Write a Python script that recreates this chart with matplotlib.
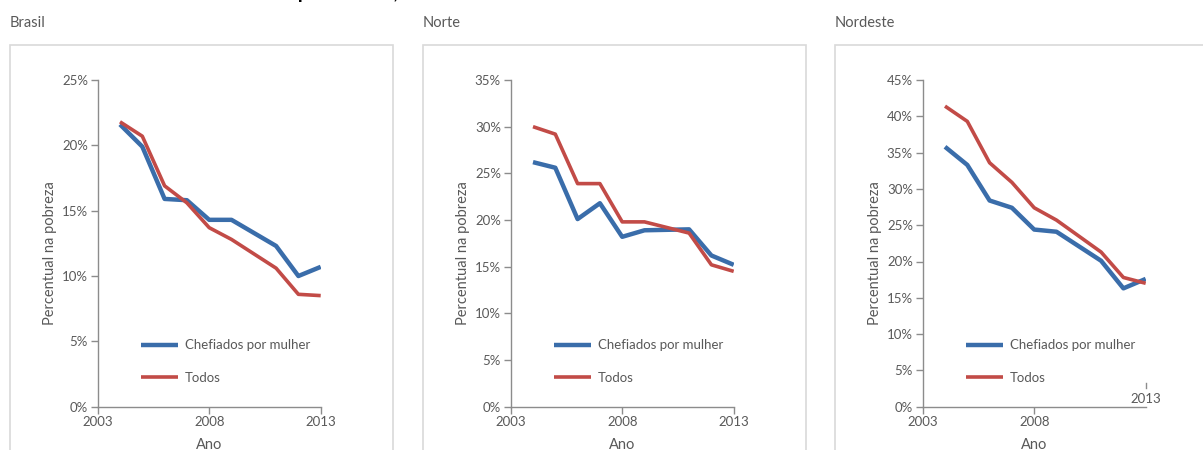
import matplotlib
matplotlib.use("agg")
import matplotlib.pyplot as plt
import matplotlib.ticker as ticker
from matplotlib.patches import Rectangle

plt.rcParams['font.family'] = ['Lato', 'DejaVu Sans']

# anos da PNAD (sem 2010)
anos = [2004, 2005, 2006, 2007, 2008, 2009, 2011, 2012, 2013]

regioes = ["Brasil", "Norte", "Nordeste"]

brasil_mulher = [21.6, 19.9, 15.9, 15.8, 14.3, 14.3, 12.3, 10.0, 10.7]
brasil_todos = [21.8, 20.7, 16.9, 15.6, 13.7, 12.8, 10.6, 8.6, 8.5]

norte_mulher = [26.2, 25.6, 20.1, 21.8, 18.2, 18.9, 19.0, 16.2, 15.2]
norte_todos = [30.0, 29.2, 23.9, 23.9, 19.8, 19.8, 18.6, 15.2, 14.5]

nordeste_mulher = [35.8, 33.3, 28.4, 27.4, 24.4, 24.1, 20.1, 16.3, 17.6]
nordeste_todos = [41.4, 39.3, 33.6, 30.9, 27.4, 25.7, 21.3, 17.8, 17.0]

ymax = [25, 35, 45]
serie_mulher = [brasil_mulher, norte_mulher, nordeste_mulher]
serie_todos = [brasil_todos, norte_todos, nordeste_todos]

W, H = 1203, 450
azul = "#3A6DAA"
vermelho = "#C24B47"
cinza_txt = "#595959"
cinza_eixo = "#8C8C8C"

fig = plt.figure(figsize=(W / 100, H / 100), dpi=100)

# titulo cortado no topo (so a parte de baixo aparece, como no original)
fig.text(10 / W, 1 + 0.5 / H, "Pobreza em domicílios chefiados por mulher, Norte e Nordeste",
         fontsize=14, fontweight="bold", color="black", va="baseline", ha="left")

box_left = [10, 423, 835]
axes_left = [97.7, 510.7, 922.7]
ax_w = 223
ax_bottom = 406.7
ax_top = 80

for i in range(3):
    # caixa do painel
    fig.patches.append(Rectangle((box_left[i] / W, -0.2), 383 / W, 0.2 + (H - 45) / H,
                                 transform=fig.transFigure, fill=False,
                                 edgecolor="#D9D9D9", linewidth=1.2))
    fig.text(box_left[i] / W, 1 - 23 / H, regioes[i], fontsize=10.5,
             color=cinza_txt, va="center", ha="left")

    ax = fig.add_axes([axes_left[i] / W, (H - ax_bottom) / H,
                       ax_w / W, (ax_bottom - ax_top) / H])
    ax.plot(anos, serie_mulher[i], color=azul, linewidth=3.2,
            label="Chefiados por mulher", solid_capstyle="butt")
    ax.plot(anos, serie_todos[i], color=vermelho, linewidth=2.6,
            label="Todos", solid_capstyle="butt")

    ax.set_xlim(2003, 2013)
    ax.set_ylim(0, ymax[i])
    ax.set_xticks([2003, 2008, 2013])
    ax.yaxis.set_major_locator(ticker.MultipleLocator(5))
    ax.yaxis.set_major_formatter(ticker.FuncFormatter(lambda v, p: f"{v:.0f}%"))

    for s in ["top", "right"]:
        ax.spines[s].set_visible(False)
    for s in ["left", "bottom"]:
        ax.spines[s].set_color(cinza_eixo)
        ax.spines[s].set_linewidth(1)
    ax.tick_params(colors=cinza_eixo, labelcolor=cinza_txt, labelsize=9.5,
                   length=5, width=1, direction="out", pad=2)

    ax.set_ylabel("Percentual na pobreza", fontsize=10.5, color=cinza_txt)
    ax.yaxis.set_label_coords(-0.183, 0.47)
    ax.set_xlabel("Ano", fontsize=10.5, color=cinza_txt)
    ax.xaxis.set_label_coords(0.5, -0.097)

    leg = ax.legend(loc="lower left", bbox_to_anchor=(0.165, 0.05), frameon=False,
                    fontsize=9.5, handlelength=2.8, labelspacing=1.55,
                    handletextpad=0.5, borderpad=0)
    for t in leg.get_texts():
        t.set_color(cinza_txt)

    if i == 2:
        # rotulo de 2013 deslocado para cima, como no original
        ax.set_xticklabels(["2003", "2008", ""])
        ax.xaxis.get_major_ticks()[2].tick1line.set_visible(False)
        tr = ax.get_xaxis_transform()
        ax.plot([2013, 2013], [0.057, 0.073], color=cinza_eixo, linewidth=1,
                transform=tr, clip_on=False)
        ax.text(2013, 0.024, "2013", transform=tr, fontsize=9.5, color=cinza_txt,
                ha="center", va="center")

fig.savefig("out.png", dpi=100)
